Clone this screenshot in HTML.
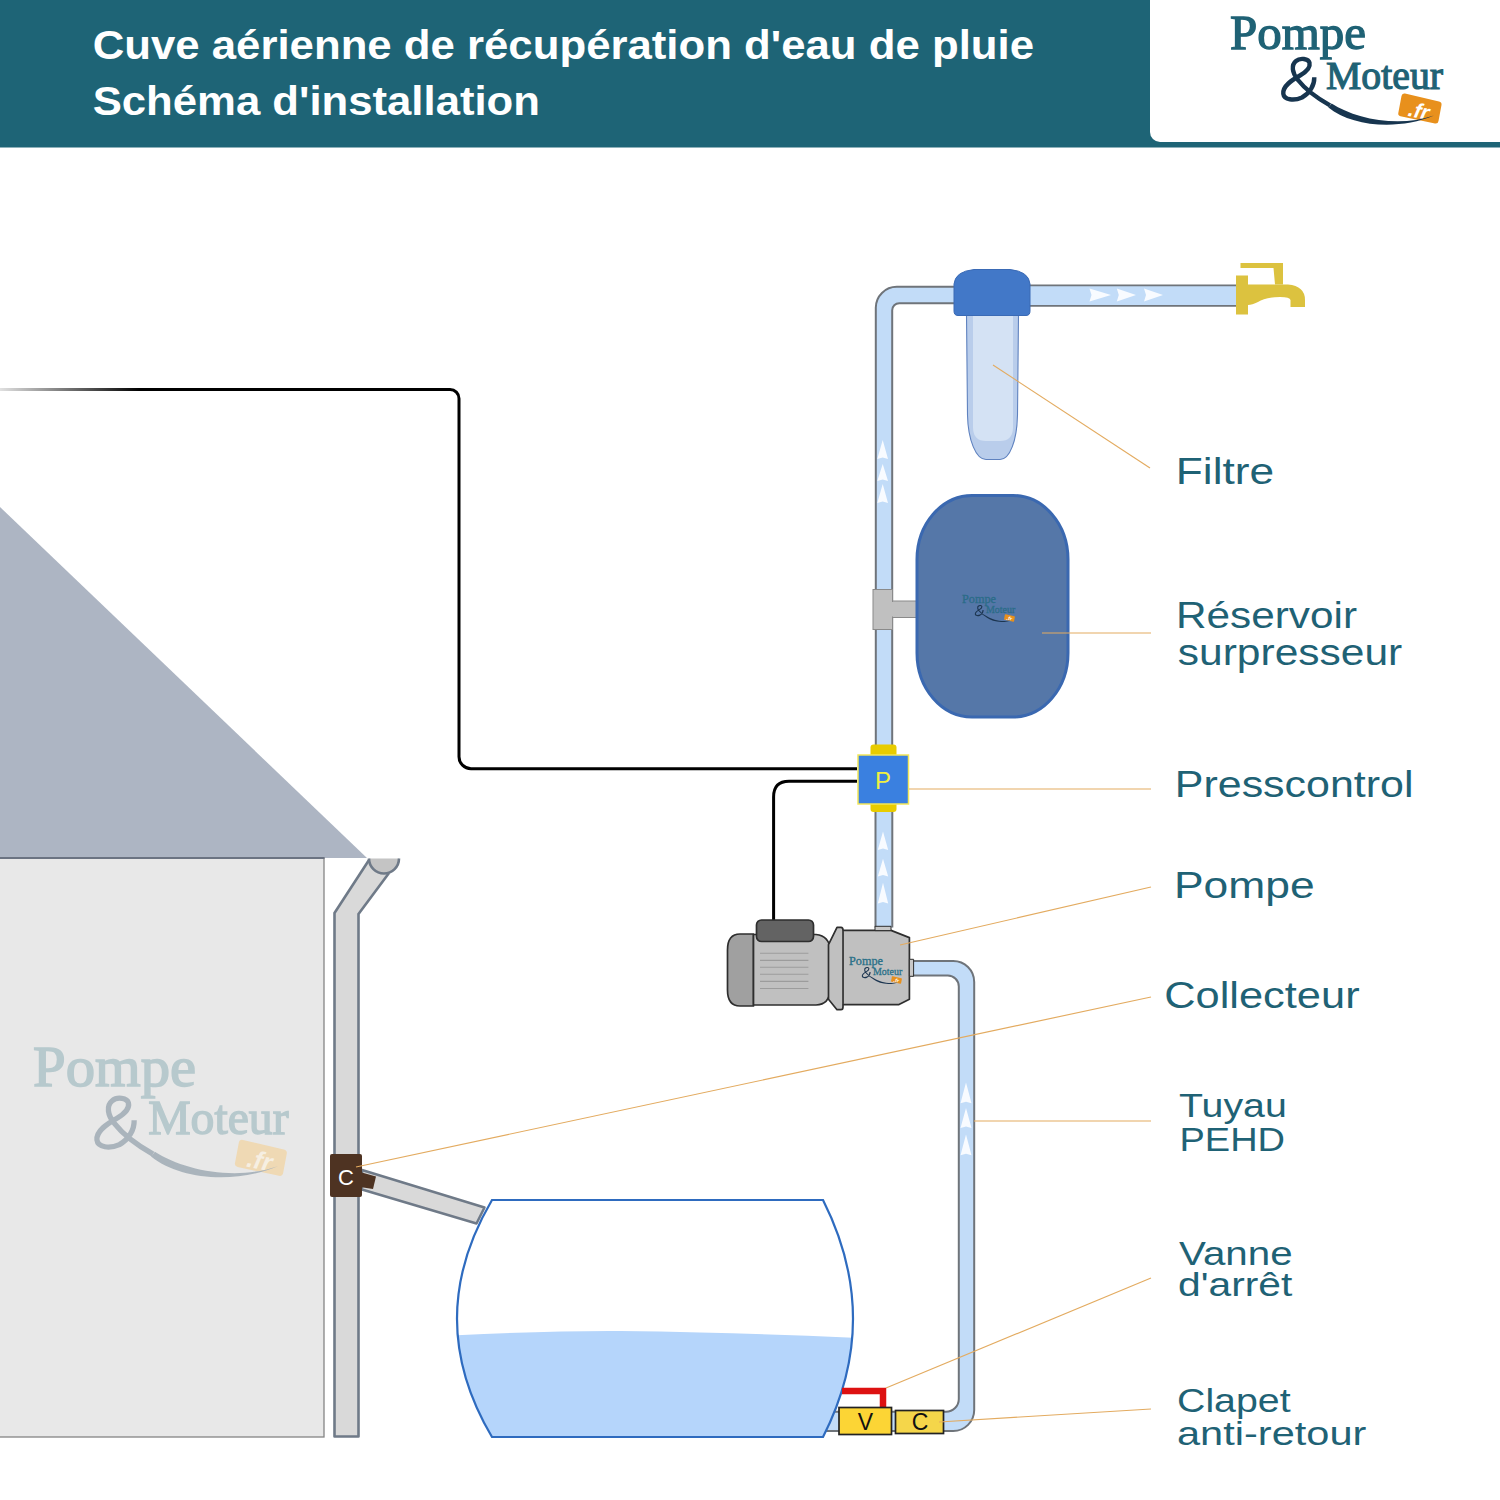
<!DOCTYPE html>
<html><head><meta charset="utf-8">
<style>
html,body{margin:0;padding:0;background:#fff;width:1500px;height:1500px;overflow:hidden}
svg{display:block}
svg{font-family:"Liberation Sans",sans-serif}
</style></head><body>
<svg width="1500" height="1500" viewBox="0 0 1500 1500">
<defs>
<linearGradient id="wg" x1="0" y1="0" x2="140" y2="0" gradientUnits="userSpaceOnUse">
<stop offset="0" stop-color="#000" stop-opacity="0.12"/><stop offset="1" stop-color="#000" stop-opacity="1"/>
</linearGradient>
<clipPath id="tankclip"><path d="M492,1200 L823,1200 Q883,1319 823,1437 L492,1437 Q422,1319 492,1200 Z"/></clipPath>

<g id="logo">
<text x="0" y="32" font-family="Liberation Serif" font-size="48" style="fill:var(--c1);stroke:var(--c1);stroke-width:1.3" textLength="136" lengthAdjust="spacingAndGlyphs">Pompe</text>
<text x="96" y="72" font-family="Liberation Serif" font-size="41" style="fill:var(--c1);stroke:var(--c1);stroke-width:1.2" textLength="117" lengthAdjust="spacingAndGlyphs">Moteur</text>
<path d="M175,76.6 L209,84.6 Q212,85.5 211.5,88 L208.5,104 Q208,107 205,106.5 L170.5,99.2 Q167.8,98.5 168.3,96 L171.5,79 Q172,76 175,76.6 Z" style="fill:var(--c3)"/>
<text x="189" y="101" font-family="Liberation Sans" font-style="italic" font-weight="bold" font-size="21" style="fill:var(--c4)" text-anchor="middle" transform="rotate(12 189 94)">.fr</text>
<path d="M84.3,60.2 C84.5,68 80,76 72,80.5 C64,84 54,83 53.3,76.7 C52.5,69 62,63 70,58.5 C77,54.5 80.5,50 79.5,45.8 C78.5,41.5 70,40.5 66,44 C61,48 62,56 68,63 C75,72 86,80.5 100,88.4" style="fill:none;stroke:var(--c2);stroke-width:4.4;stroke-linecap:butt"/>
<path d="M101.6,86.4 C125,101.5 168,111 204,98.5 C168,113.6 122,109.5 98.4,90.4 Z" style="fill:var(--c2)"/>
</g>
</defs>

<!-- HEADER -->
<rect x="0" y="0" width="1500" height="147.5" fill="#1e6476"/>
<rect x="1150" y="-20" width="380" height="162" rx="10" fill="#fff"/>
<text x="92.7" y="59" font-size="41" font-weight="bold" fill="#fff" textLength="941.3" lengthAdjust="spacingAndGlyphs">Cuve aérienne de récupération d'eau de pluie</text>
<text x="92.7" y="115" font-size="41" font-weight="bold" fill="#fff" textLength="447.3" lengthAdjust="spacingAndGlyphs">Schéma d'installation</text>


<!-- LOGOS -->
<use href="#logo" transform="translate(1230,17)" style="--c1:#1f6275;--c2:#17354f;--c3:#e8901c;--c4:#fff"/>
<!-- HOUSE -->
<polygon points="0,507 367,858 0,858" fill="#adb5c3"/>
<rect x="-5" y="858" width="329" height="579" fill="#e8e8e8" stroke="#858585" stroke-width="1.3"/>
<line x1="0" y1="858" x2="324.5" y2="858" stroke="#6b7382" stroke-width="2"/>
<use href="#logo" transform="translate(33,1048) scale(1.2)" style="--c1:#b7c9cd;--c2:#aab4bc;--c3:#efd9b4;--c4:#f6efe2"/>


<!-- downpipe -->
<path d="M369,860 L334.5,913 L334.5,1436.5 L358.5,1436.5 L358.5,914 L389,873" fill="#d9d9d9" stroke="#6f7a88" stroke-width="2.6" stroke-linejoin="round"/>
<path d="M369,858.5 A15,15 0 0,0 399,858.5 Z" fill="#c4c4c4"/><path d="M369,858.5 A15,15 0 0,0 399,858.5" fill="none" stroke="#6f7a88" stroke-width="2.6"/>

<!-- collector pipe -->
<polygon points="362,1170 484.5,1207.5 476.5,1223.5 362,1189.5" fill="#d9d9d9" stroke="#6f7a88" stroke-width="2.5" stroke-linejoin="round"/>
<rect x="330" y="1154" width="32" height="43" rx="2" fill="#4e3322"/>
<polygon points="360,1172 376,1176.5 373,1189 360,1187" fill="#4e3322"/>
<text x="346" y="1184.5" font-size="22" fill="#fff" text-anchor="middle">C</text>

<!-- bottom pipe (behind tank) -->
<path d="M912,961 H953 A21,21 0 0 1 974.2,982 V1410 A21,21 0 0 1 953.2,1431 H815 V1411.8 H946 A12.8,12.8 0 0 0 958.8,1399 V986.5 A11,11 0 0 0 947.8,975.5 H912" fill="#c2dcf8" stroke="#6f747a" stroke-width="2"/>
<!-- TANK -->
<path d="M492,1200 L823,1200 Q883,1319 823,1437 L492,1437 Q422,1319 492,1200 Z" fill="#fff"/>
<g clip-path="url(#tankclip)">
<path d="M400,1338.5 Q530,1330.5 620,1331 Q660,1331.3 700,1332.5 Q800,1335 900,1340 V1450 H400 Z" fill="#b5d5fb"/>
</g>
<path d="M492,1200 L823,1200 Q883,1319 823,1437 L492,1437 Q422,1319 492,1200 Z" fill="none" stroke="#2e6bbf" stroke-width="2.2"/>

<!-- valves -->
<path d="M842,1391 H883 V1407" fill="none" stroke="#dd1111" stroke-width="6.5"/>
<rect x="839" y="1407.5" width="52.5" height="27" fill="#fcd535" stroke="#222" stroke-width="1.7"/>
<text x="865.5" y="1430" font-size="23" fill="#111" text-anchor="middle">V</text>
<rect x="895.5" y="1410.5" width="48" height="23" fill="#f5d64a" stroke="#222" stroke-width="1.7"/>
<text x="920" y="1430" font-size="23" fill="#111" text-anchor="middle">C</text>

<!-- VERTICAL PIPE & TOP -->
<path d="M875.8,745 V307.8 A21,21 0 0 1 896.8,286.8 H956 V303.2 H899.2 A7,7 0 0 0 892.2,310.2 V745" fill="#c2dcf8" stroke="#6f747a" stroke-width="2"/>
<rect x="875.5" y="811" width="16.8" height="116.5" fill="#c2dcf8"/>
<path d="M875.5,811 V927.5 M892.3,811 V927.5" stroke="#6f747a" stroke-width="2"/>
<rect x="1028" y="285.3" width="209" height="20.5" fill="#c2dcf8"/>
<path d="M1028,285.3 H1237 M1028,305.8 H1237" stroke="#6f747a" stroke-width="1.8"/>
<!-- arrows -->
<g fill="#f8fbff">
<polygon points="882.7,440 877.3,459 882.7,457.5 888,459"/>
<polygon points="882.7,464 877.3,481 882.7,479.5 888,481"/>
<polygon points="882.7,484 877.3,503 882.7,501.5 888,503"/>
<polygon points="883,831.5 877.8,850 883,848.5 888.2,850"/>
<polygon points="883,858.8 877.8,876.4 883,875 888.2,876.4"/>
<polygon points="883,882.8 877.8,903.6 883,902 888.2,903.6"/>
<polygon points="966,1082.4 960.5,1103.2 966,1101.7 971.5,1103.2"/>
<polygon points="966,1108 960.5,1128 966,1126.5 971.5,1128"/>
<polygon points="966,1134.4 960.5,1155.2 966,1153.7 971.5,1155.2"/>
<polygon points="1111,295 1089.5,288.6 1091.5,295 1089.5,301.4"/>
<polygon points="1136,295 1116.8,288.6 1118.8,295 1116.8,301.4"/>
<polygon points="1163,295 1144,288.6 1146,295 1144,301.4"/>
</g>

<!-- T junction -->
<rect x="873" y="589.5" width="19.5" height="40" fill="#c0c0c0" stroke="#8a8a8a" stroke-width="1"/>
<rect x="892.5" y="601" width="24" height="16.5" fill="#c0c0c0" stroke="#8a8a8a" stroke-width="1"/>
<rect x="890" y="602" width="5" height="14.5" fill="#c0c0c0"/>

<!-- reservoir -->
<rect x="917" y="495.5" width="151" height="221.5" rx="55" ry="64" fill="#5577a8" stroke="#3a68b0" stroke-width="3"/>

<use href="#logo" transform="translate(962,595) scale(0.25)" style="--c1:#2b6c88;--c2:#1c3550;--c3:#e8901c;--c4:#fff"/>
<!-- filter -->
<path d="M966.5,315 L967.5,415 C968,440 976,459.5 986,459.5 H1000 C1010,459.5 1017,440 1017.5,415 L1018.5,315 Z" fill="#b9cdeb" stroke="#5f82bf" stroke-width="1.1"/>
<path d="M973,316 V428 Q973.5,441 986,441 H1000 Q1012.5,441 1013,428 V316 Z" fill="#d4e2f4"/>
<path d="M954,311 V284 Q955,271.5 974,269.5 H1010 Q1029,271.5 1030,284 V311 Q1030,315.5 1026,315.5 H958 Q954,315.5 954,311 Z" fill="#4278c8" stroke="#3a6ab5" stroke-width="1"/>
<!-- tap -->
<g fill="#dcc23f">
<rect x="1236" y="275.5" width="12" height="39"/>
<path d="M1248,284.5 H1288 Q1305,286 1305,300 V307 H1290.5 V300 Q1290,297 1280,297 Q1265,297 1258,302 Q1252,305 1248,305 Z"/>
<path d="M1240.5,263 H1283 V284.5 H1275 L1273.5,268 H1240.5 Z"/>
</g>

<!-- presscontrol -->
<rect x="870.5" y="744.5" width="26" height="14" rx="3" fill="#e8cc00"/>
<rect x="870.5" y="800" width="26" height="12" rx="3" fill="#e8cc00"/>
<rect x="858" y="755" width="50.5" height="49" fill="#3a80e0" stroke="#f2e65a" stroke-width="1.5"/>
<text x="883" y="789" font-size="24" fill="#f0f040" text-anchor="middle">P</text>

<!-- wires -->
<path d="M0,389.5 H450 A9,9 0 0 1 459,398.5 V756.7 A12,12 0 0 0 471,768.7 H857" fill="none" stroke="url(#wg)" stroke-width="3"/>
<path d="M857,781.3 H789 Q773.6,781.3 773.6,797 V920" fill="none" stroke="#000" stroke-width="3"/>

<!-- PUMP -->
<g stroke="#2e2e2e" stroke-width="1.7" stroke-linejoin="round">
<path d="M753.5,934 H740 Q727.5,934 727.5,950 V990 Q727.5,1006 740,1006 H753.5 Z" fill="#a0a0a0"/>
<path d="M753.5,934.5 H816 Q829.5,936 830,950 V990 Q829.5,1004.5 816,1005 H753.5 Z" fill="#c0c0c0"/>
<rect x="756.5" y="920" width="57" height="21.5" rx="5" fill="#636363"/>
<path d="M843,930.4 H891 L909.4,937.6 V999.2 L899,1004.6 H843 Z" fill="#c0c0c0"/>
<path d="M837,927.3 H841 Q843,927.3 843,930 V1007 Q843,1009.7 841,1009.7 H837 L828.5,999.3 V944.7 Z" fill="#c0c0c0"/>
<rect x="875" y="926.3" width="16" height="4.3" fill="#c8c8c8" stroke-width="1"/>
<rect x="909.4" y="959.3" width="4.2" height="17" fill="#c8c8c8" stroke-width="1"/>
</g>
<line x1="843" y1="931" x2="843" y2="1004" stroke="#555" stroke-width="1"/>
<g stroke="#9c9c9c" stroke-width="1.1">
<line x1="760" y1="953.3" x2="808.4" y2="953.3"/>
<line x1="760" y1="960.4" x2="808.4" y2="960.4"/>
<line x1="760" y1="967.3" x2="808.4" y2="967.3"/>
<line x1="760" y1="974.3" x2="808.4" y2="974.3"/>
<line x1="760" y1="981.4" x2="808.4" y2="981.4"/>
<line x1="760" y1="988.5" x2="808.4" y2="988.5"/>
</g>
<use href="#logo" transform="translate(849,957) scale(0.25)" style="--c1:#2a7088;--c2:#1c3550;--c3:#e8901c;--c4:#fff"/>
<!-- LEADER LINES -->
<g stroke="#e3ab60" stroke-width="1.15" fill="none">
<line x1="993" y1="365" x2="1150" y2="468"/>
<line x1="1042" y1="633" x2="1151" y2="633"/>
<line x1="909" y1="789" x2="1151" y2="789"/>
<line x1="900" y1="945" x2="1151" y2="887"/>
<line x1="356" y1="1167" x2="1151" y2="997"/>
<line x1="974" y1="1121" x2="1151" y2="1121"/>
<line x1="886" y1="1388" x2="1151" y2="1278"/>
<line x1="939" y1="1422" x2="1151" y2="1409"/>
</g>

<!-- LABELS -->
<g fill="#1f6275" font-size="37.5">
<text x="1175.8" y="484.3" textLength="98.3" lengthAdjust="spacingAndGlyphs">Filtre</text>
<text x="1176" y="628.3" textLength="181" lengthAdjust="spacingAndGlyphs">Réservoir</text>
<text x="1177.8" y="665" textLength="224.4" lengthAdjust="spacingAndGlyphs">surpresseur</text>
<text x="1174.8" y="796.7" textLength="238.7" lengthAdjust="spacingAndGlyphs">Presscontrol</text>
<text x="1174" y="898.3" textLength="140.7" lengthAdjust="spacingAndGlyphs">Pompe</text>
<text x="1164.2" y="1007.8" textLength="195.4" lengthAdjust="spacingAndGlyphs">Collecteur</text>
<text font-size="33.5" x="1179" y="1116.6" textLength="107.8" lengthAdjust="spacingAndGlyphs">Tuyau</text>
<text font-size="33.5" x="1179.5" y="1150.6" textLength="105.5" lengthAdjust="spacingAndGlyphs">PEHD</text>
<text font-size="33.5" x="1179" y="1264.5" textLength="113.6" lengthAdjust="spacingAndGlyphs">Vanne</text>
<text font-size="33.5" x="1178" y="1296" textLength="114.3" lengthAdjust="spacingAndGlyphs">d'arrêt</text>
<text font-size="33.5" x="1177" y="1411.7" textLength="113.6" lengthAdjust="spacingAndGlyphs">Clapet</text>
<text font-size="33.5" x="1177" y="1444.7" textLength="189.4" lengthAdjust="spacingAndGlyphs">anti-retour</text>
</g>

</svg>
</body></html>
